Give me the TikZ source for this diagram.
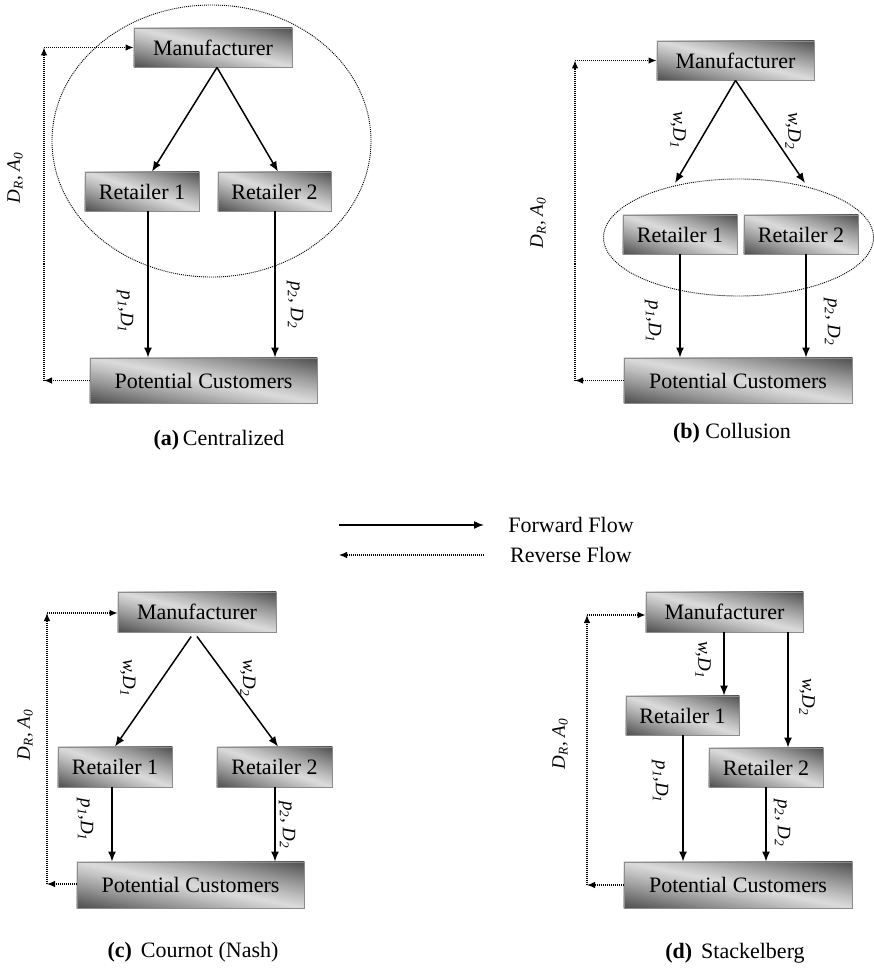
\documentclass[tikz,border=0pt]{standalone}
\usepackage{fontspec}
\setmainfont{Liberation Serif}
\usetikzlibrary{arrows.meta}
\pgfdeclarelayer{bg}
\pgfsetlayers{bg,main}
\newcommand\shadebox[1]{%
  \path (#1.south west); \pgfgetlastxy{\sbxa}{\sbya}%
  \path (#1.north east); \pgfgetlastxy{\sbxb}{\sbyb}%
  \pgfmathsetmacro\sbW{\sbxb-\sbxa}%
  \pgfmathsetmacro\sbH{\sbyb-\sbya}%
  \begin{scope}
  \clip (\sbxa,\sbya) rectangle (\sbxb,\sbyb);
  \foreach \k in {0,...,47}{%
    \pgfmathsetmacro\sba{2*\k/48}%
    \pgfmathsetmacro\sbb{2*(\k+1.4)/48}%
    \pgfmathsetmacro\sbt{abs(2*(\k+0.5)/48-1)}%
    \pgfmathsetmacro\sbc{int(round(14+56*\sbt^1.1))}%
    \pgfmathsetmacro\pxa{\sbxa+(\sba+1)*\sbW}%
    \pgfmathsetmacro\pxb{\sbxa+(\sbb+1)*\sbW}%
    \pgfmathsetmacro\pxc{\sbxa+(\sbb-2)*\sbW}%
    \pgfmathsetmacro\pxd{\sbxa+(\sba-2)*\sbW}%
    \pgfmathsetmacro\pyl{\sbya-\sbH}%
    \pgfmathsetmacro\pyh{\sbya+2*\sbH}%
    \fill[black!\sbc] (\pxa pt,\pyl pt) -- (\pxb pt,\pyl pt) -- (\pxc pt,\pyh pt) -- (\pxd pt,\pyh pt) -- cycle;
  }
  \end{scope}}
\begin{document}
\begin{tikzpicture}[x=1pt,y=-1pt,
  box/.style={draw=black!45, line width=0.9pt, inner sep=0pt,
    font=\fontsize{22}{24}\selectfont},
  fwd/.style={line width=1.5pt, -{Latex[length=10pt,width=8pt]}},
  rev/.style={line width=1.1pt, dash pattern=on 1pt off 1pt, -{Latex[length=8pt,width=6.5pt]}},
  grp/.style={line width=0.9pt, dash pattern=on 1pt off 1pt},
  lab/.style={font=\fontsize{19}{21}\selectfont\itshape, inner sep=0pt},
  captext/.style={font=\fontsize{22}{24}\selectfont, inner sep=0pt},
  txt/.style={font=\fontsize{22}{24}\selectfont, inner sep=0pt}]
\useasboundingbox (0,0) rectangle (874,968);

% ---------------- (a) Centralized ----------------
\draw[grp] (211.5,141) ellipse [x radius=159.5, y radius=136];
\node[box, minimum width=158pt, minimum height=39pt] (ma) at (213,47.5) {Manufacturer};
\node[box, minimum width=114pt, minimum height=39pt] (ra1) at (142,191.5) {Retailer 1};
\node[box, minimum width=113pt, minimum height=39pt] (ra2) at (274.5,191.5) {Retailer 2};
\node[box, minimum width=227pt, minimum height=45pt] (pa) at (203.5,380.5) {Potential Customers};
\draw[fwd] ([xshift=4pt]ma.south) -- ([xshift=10pt]ra1.north);
\draw[fwd] ([xshift=4pt]ma.south) -- ([xshift=3.5pt]ra2.north);
\draw[fwd] ([xshift=6pt]ra1.south) -- ([xshift=6pt]ra1.south |- pa.north);
\draw[fwd] ([xshift=0.5pt]ra2.south) -- ([xshift=0.5pt]ra2.south |- pa.north);
\coordinate (ta) at (44,47.5);
\coordinate (ba) at (44,380.5);
\draw[rev] (pa.west) -- (ba);
\draw[rev] (ba) -- (ta);
\draw[rev] (ta) -- (ma.west);
\node[lab, rotate=90] (la0) at (15,178) {D\textsubscript{R}, A\textsubscript{0}};
\node[lab, rotate=-90] (la1) at (125,312) {p\textsubscript{1},D\textsubscript{1}};
\node[lab, rotate=-90] (la2) at (295,305) {p\textsubscript{2}, D\textsubscript{2}};
\node[captext] (capa) at (219,440) {\textbf{(a)}\,Centralized};

% ---------------- (b) Collusion ----------------
\draw[grp] (738.5,237.5) ellipse [x radius=135, y radius=58.5];
\node[box, minimum width=157pt, minimum height=39pt] (mb) at (735.5,60.5) {Manufacturer};
\node[box, minimum width=114pt, minimum height=39pt] (rb1) at (680,234.5) {Retailer 1};
\node[box, minimum width=114pt, minimum height=39pt] (rb2) at (801,234.5) {Retailer 2};
\node[box, minimum width=228pt, minimum height=45pt] (pb) at (738,380.5) {Potential Customers};
\coordinate (eb1) at (675,183);
\coordinate (eb2) at (805,183);
\draw[fwd] (mb.south) -- (eb1);
\draw[fwd] (mb.south) -- (eb2);
\draw[fwd] (rb1.south) -- (rb1.south |- pb.north);
\draw[fwd] ([xshift=5pt]rb2.south) -- ([xshift=5pt]rb2.south |- pb.north);
\coordinate (tb) at (575,60.5);
\coordinate (bb) at (575,380.5);
\draw[rev] (pb.west) -- (bb);
\draw[rev] (bb) -- (tb);
\draw[rev] (tb) -- (mb.west);
\node[lab, rotate=90] (lb0) at (538,223) {D\textsubscript{R}, A\textsubscript{0}};
\node[lab, rotate=-90] (lbw1) at (678,130) {w,D\textsubscript{1}};
\node[lab, rotate=-90] (lbw2) at (793,131) {w,D\textsubscript{2}};
\node[lab, rotate=-90] (lb1) at (653,322) {p\textsubscript{1},D\textsubscript{1}};
\node[lab, rotate=-90] (lb2) at (832,322) {p\textsubscript{2}, D\textsubscript{2}};
\node[captext] (capb) at (732,433) {\textbf{(b)} Collusion};

% ---------------- Legend ----------------
\coordinate (l1a) at (339,525);
\coordinate (l1b) at (484,525);
\coordinate (l2a) at (339,555);
\coordinate (l2b) at (484,555);
\draw[fwd] (l1a) -- (l1b);
\draw[rev] (l2b) -- (l2a);
\node[txt] (fwdt) at (571,525) {Forward Flow};
\node[txt] (revt) at (571,555) {Reverse Flow};

% ---------------- (c) Cournot (Nash) ----------------
\node[box, minimum width=158pt, minimum height=40pt] (mc) at (197,612) {Manufacturer};
\node[box, minimum width=114pt, minimum height=40pt] (rc1) at (115,767) {Retailer 1};
\node[box, minimum width=115pt, minimum height=40pt] (rc2) at (274.5,767) {Retailer 2};
\node[box, minimum width=227pt, minimum height=46pt] (pcc) at (190.5,885) {Potential Customers};
\draw[fwd, shorten <=5pt] ([xshift=-3pt]mc.south) -- (rc1.north);
\draw[fwd, shorten <=5pt] ([xshift=-3pt]mc.south) -- ([xshift=3.5pt]rc2.north);
\draw[fwd] ([xshift=-3pt]rc1.south) -- ([xshift=-3pt]rc1.south |- pcc.north);
\draw[fwd] ([xshift=0.5pt]rc2.south) -- ([xshift=0.5pt]rc2.south |- pcc.north);
\coordinate (tc) at (47,613);
\coordinate (bc) at (47,884);
\draw[rev] (pcc.west |- bc) -- (bc);
\draw[rev] (bc) -- (tc);
\draw[rev] (tc) -- (mc.west |- tc);
\node[lab, rotate=90] (lc0) at (25,735) {D\textsubscript{R}, A\textsubscript{0}};
\node[lab, rotate=-90] (lcw1) at (128,678) {w,D\textsubscript{1}};
\node[lab, rotate=-90] (lcw2) at (248,678) {w,D\textsubscript{2}};
\node[lab, rotate=-90] (lc1) at (85,820) {p\textsubscript{1},D\textsubscript{1}};
\node[lab, rotate=-90] (lc2) at (287,825) {p\textsubscript{2}, D\textsubscript{2}};
\node[captext] (capc) at (193,952) {\textbf{(c)}\hspace{9pt}Cournot (Nash)};

% ---------------- (d) Stackelberg ----------------
\node[box, minimum width=157pt, minimum height=40pt] (md) at (724.5,612) {Manufacturer};
\node[box, minimum width=113pt, minimum height=39pt] (rd1) at (682.5,715.5) {Retailer 1};
\node[box, minimum width=114pt, minimum height=39pt] (rd2) at (766,767.5) {Retailer 2};
\node[box, minimum width=228pt, minimum height=46pt] (pd) at (738,885) {Potential Customers};
\draw[fwd] ([xshift=-0.5pt]md.south) -- ([xshift=-0.5pt]md.south |- rd1.north);
\draw[fwd] ([xshift=63.5pt]md.south) -- ([xshift=63.5pt]md.south |- rd2.north);
\draw[fwd] ([xshift=0.5pt]rd1.south) -- ([xshift=0.5pt]rd1.south |- pd.north);
\draw[fwd] (rd2.south) -- (rd2.south |- pd.north);
\coordinate (td) at (587,615);
\coordinate (bd) at (587,885);
\draw[rev] (pd.west) -- (bd);
\draw[rev] (bd) -- (td);
\draw[rev] (td) -- (md.west |- td);
\node[lab, rotate=90] (ld0) at (560,744) {D\textsubscript{R}, A\textsubscript{0}};
\node[lab, rotate=-90] (ldw1) at (703,660) {w,D\textsubscript{1}};
\node[lab, rotate=-90] (ldw2) at (807,697) {w,D\textsubscript{2}};
\node[lab, rotate=-90] (ld1) at (660,782) {p\textsubscript{1},D\textsubscript{1}};
\node[lab, rotate=-90] (ld2) at (782,823) {p\textsubscript{2}, D\textsubscript{2}};
\node[captext] (capd) at (735,953) {\textbf{(d)}\hspace{9pt}Stackelberg};

% ---------------- box gradients ----------------
\begin{pgfonlayer}{bg}
\shadebox{ma}\shadebox{ra1}\shadebox{ra2}\shadebox{pa}
\shadebox{mb}\shadebox{rb1}\shadebox{rb2}\shadebox{pb}
\shadebox{mc}\shadebox{rc1}\shadebox{rc2}\shadebox{pcc}
\shadebox{md}\shadebox{rd1}\shadebox{rd2}\shadebox{pd}
\end{pgfonlayer}
\end{tikzpicture}
\end{document}
